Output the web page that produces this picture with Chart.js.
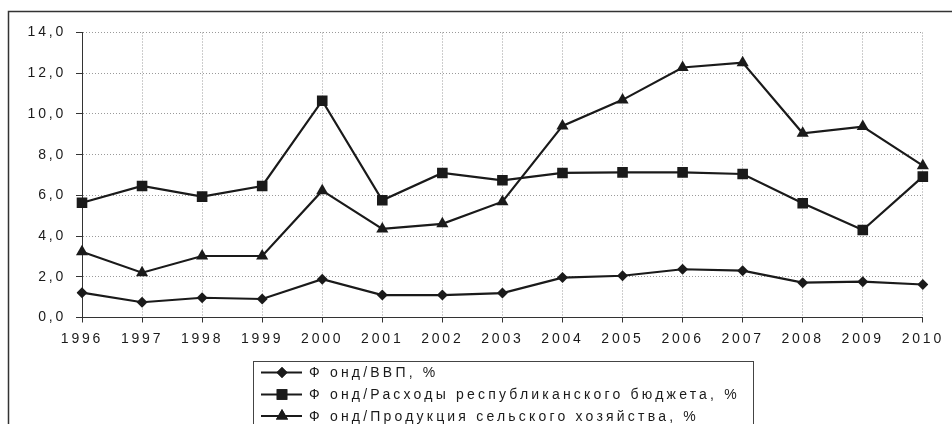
<!DOCTYPE html>
<html>
<head>
<meta charset="utf-8">
<script src="https://cdn.jsdelivr.net/npm/chart.js@4/dist/chart.umd.min.js"></script>
<style>
  html, body { margin: 0; padding: 0; background: #fff; }
  #wrap { width: 952px; height: 424px; position: relative; }
</style>
</head>
<body>
<div id="wrap"><canvas id="c" width="952" height="424"></canvas></div>
<script>
const years = ['1996','1997','1998','1999','2000','2001','2002','2003','2004','2005','2006','2007','2008','2009','2010'];
const fundGdp = [1.22, 0.75, 0.97, 0.91, 1.88, 1.1, 1.1, 1.2, 1.96, 2.05, 2.37, 2.3, 1.71, 1.76, 1.62];
const fundBudget = [5.64, 6.46, 5.94, 6.46, 10.65, 5.76, 7.1, 6.74, 7.1, 7.13, 7.13, 7.05, 5.61, 4.3, 6.92];
const fundAgri = [3.23, 2.2, 3.02, 3.02, 6.23, 4.35, 4.6, 5.69, 9.41, 10.69, 12.28, 12.52, 9.05, 9.38, 7.46];
const seriesLabels = ['Ф онд/ВВП, %', 'Ф онд/Расходы республиканского бюджета, %', 'Ф онд/Продукция сельского хозяйства, %'];
const yTicks = [0, 2, 4, 6, 8, 10, 12, 14];

const FONT = 'Arial, "Liberation Sans", sans-serif';
const INK = '#1a1a1a';

const spacingPlugin = {
  id: 'spacing',
  beforeLayout(chart) { chart.ctx.letterSpacing = '2.8px'; },
  beforeDraw(chart) { chart.ctx.letterSpacing = '2.8px'; }
};

const framePlugin = {
  id: 'frame',
  afterDraw(chart) {
    const ctx = chart.ctx;
    ctx.save();
    ctx.strokeStyle = '#333';
    ctx.lineWidth = 1.5;
    ctx.strokeRect(8.5, 11.5, 960, 500);
    ctx.strokeStyle = '#444';
    ctx.lineWidth = 1;
    ctx.strokeRect(253.5, 361.5, 500, 100);
    const rows = [372.5, 394.5, 416];
    chart.data.datasets.forEach((ds, i) => {
      const y = rows[i];
      ctx.strokeStyle = INK;
      ctx.lineWidth = 2.2;
      ctx.setLineDash([]);
      ctx.beginPath();
      ctx.moveTo(261, y);
      ctx.lineTo(302, y);
      ctx.stroke();
      ctx.fillStyle = INK;
      Chart.helpers.drawPoint(ctx, {pointStyle: ds.pointStyle, radius: ds.pointRadius, rotation: 0, borderWidth: 0}, 282, y);
      ctx.fill();
      ctx.letterSpacing = '3.2px';
      ctx.font = '14px ' + FONT;
      ctx.textBaseline = 'middle';
      ctx.textAlign = 'left';
      ctx.fillStyle = '#1a1a1a';
      ctx.fillText(ds.label, 309, y + 1);
    });
    ctx.restore();
  }
};

const mk = (label, data, style, r) => ({
  label, data,
  borderColor: INK, backgroundColor: INK,
  borderWidth: 2.2,
  pointStyle: style, pointRadius: r, pointHoverRadius: r,
  pointBackgroundColor: INK, pointBorderColor: INK, pointBorderWidth: 0,
  tension: 0, fill: false
});

new Chart(document.getElementById('c'), {
  type: 'line',
  data: {
    labels: years,
    datasets: [
      mk(seriesLabels[0], fundGdp, 'rectRot', 5.5),
      mk(seriesLabels[1], fundBudget, 'rect', 7.5),
      mk(seriesLabels[2], fundAgri, 'triangle', 7)
    ]
  },
  plugins: [spacingPlugin, framePlugin],
  options: {
    responsive: false,
    animation: false,
    events: [],
    layout: { padding: { left: 0, right: 27, top: 32.5, bottom: 0 } },
    plugins: { legend: { display: false }, tooltip: { enabled: false }, title: { display: false } },
    scales: {
      x: {
        offset: false,
        afterFit(s) { s.height = 106.5; },
        grid: { color: '#9a9a9a', lineWidth: 1, drawTicks: true, tickLength: 5, tickColor: '#333', tickBorderDash: [] },
        border: { display: true, color: '#333', width: 1, dash: [1, 2] },
        ticks: { color: '#1a1a1a', font: { family: FONT, size: 14 }, padding: 8, maxRotation: 0, autoSkip: false }
      },
      y: {
        min: 0, max: 14,
        afterFit(s) { s.width = 82; },
        afterBuildTicks(s) { s.ticks = yTicks.map(v => ({ value: v })); },
        grid: { color: '#9a9a9a', lineWidth: 1, drawTicks: true, tickLength: 6, tickColor: '#333', tickBorderDash: [] },
        border: { display: true, color: '#333', width: 1, dash: [1, 2] },
        ticks: {
          color: '#1a1a1a', font: { family: FONT, size: 14 }, padding: 10,
          callback: v => v.toFixed(1).replace('.', ',')
        }
      }
    }
  }
});
</script>
</body>
</html>
